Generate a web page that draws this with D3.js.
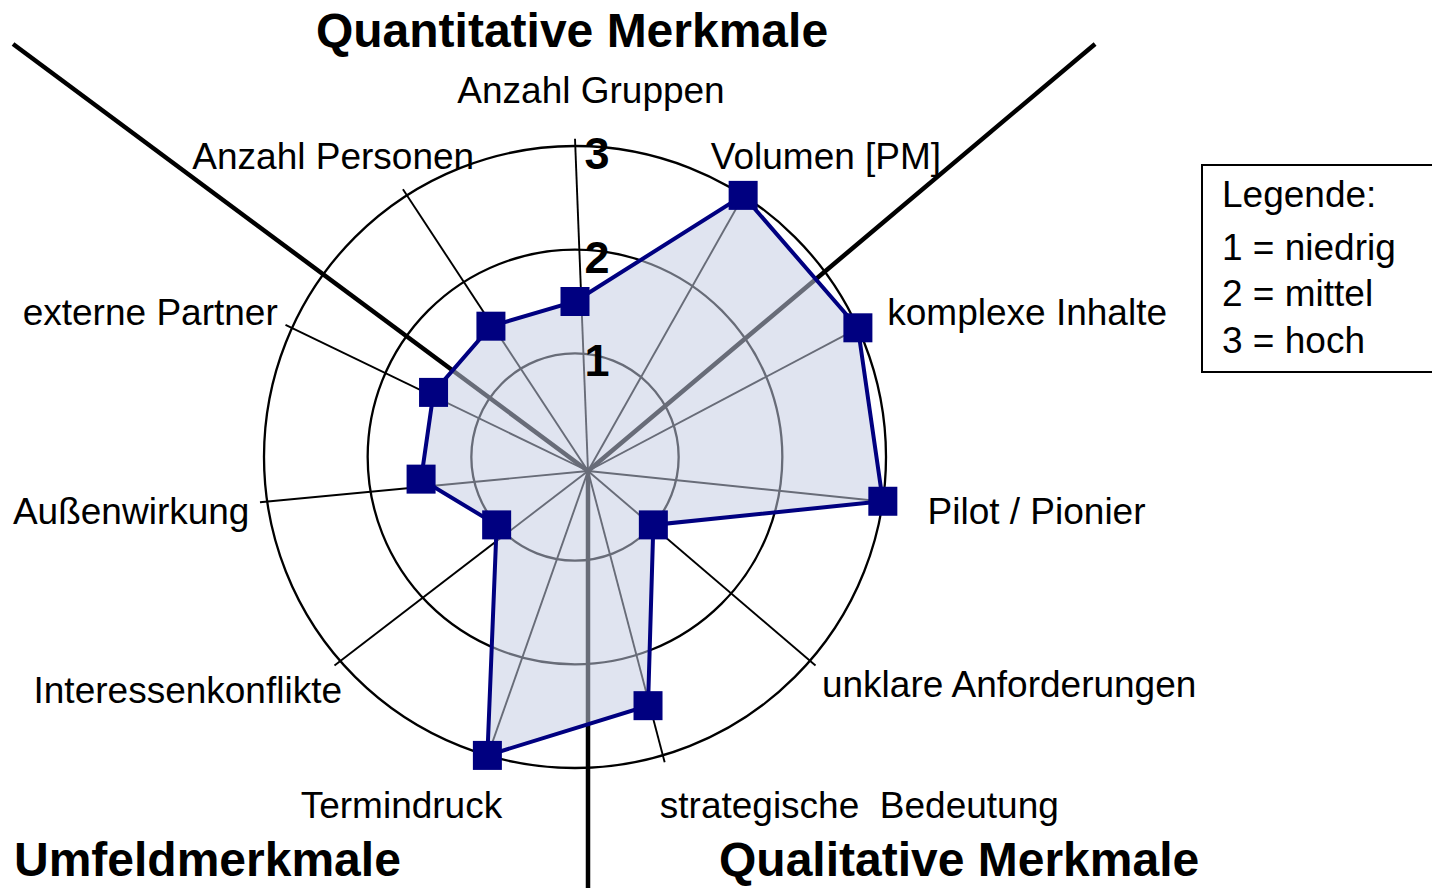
<!DOCTYPE html>
<html>
<head>
<meta charset="utf-8">
<script src="https://cdn.jsdelivr.net/npm/d3@7"></script>
<style>
  html, body { margin: 0; padding: 0; background: #fff; }
  text { font-family: "Liberation Sans", Arial, sans-serif; fill: #000; }
</style>
</head>
<body>
<div id="chart"></div>
<script>
// Categories, clockwise from the top
const categories = [
    'Anzahl Gruppen', 'Volumen [PM]', 'komplexe Inhalte', 'Pilot / Pionier',
    'unklare Anforderungen', 'strategische  Bedeutung', 'Termindruck',
    'Interessenkonflikte', 'Außenwirkung', 'externe Partner', 'Anzahl Personen'
];
const values = [1.5, 3, 3, 3, 1, 2.5, 3, 1, 1.5, 1.5, 1.5];
const ringTicks = [1, 2, 3];
const legendLines = ['Legende:', '1 = niedrig', '2 = mittel', '3 = hoch'];
const groupNames = ['Quantitative Merkmale', 'Qualitative Merkmale', 'Umfeldmerkmale'];
// sector dividers, degrees clockwise from north
const dividerAngles = [49.9, 180, 306.6];

// Size and layout
const width = 1432;
const height = 888;
const center = { x: 575, y: 457 };
const spokeOrigin = { x: 588, y: 471 };   // spokes meet slightly off the ring centre
const navy = '#000080';

// label placement: anchor + nudge from the axis point at r = 340
const labelLayout = [
    { anchor: 'middle', dx: 16, dy: -14 },
    { anchor: 'start', dx: -48, dy: -2 },
    { anchor: 'start', dx: 3, dy: 9 },
    { anchor: 'start', dx: 16, dy: 19 },
    { anchor: 'start', dx: -10, dy: 17 },
    { anchor: 'start', dx: -11, dy: 35 },
    { anchor: 'end', dx: 23, dy: 35 },
    { anchor: 'end', dx: 24, dy: 23 },
    { anchor: 'end', dx: 11, dy: 19 },
    { anchor: 'end', dx: 12, dy: 9 },
    { anchor: 'end', dx: 83, dy: -2 }
];

const svg = d3.select('#chart')
    .append('svg')
    .attr('width', width)
    .attr('height', height);

const rScale = d3.scaleLinear().domain([0, 3]).range([0, 311]);
const angle = d3.scalePoint()
    .domain(d3.range(categories.length + 1))
    .range([0, 2 * Math.PI]);

const polar = (i, r, c = center) => [
    c.x + r * Math.sin(angle(i)),
    c.y - r * Math.cos(angle(i))
];

// Rings
svg.append('g')
    .selectAll('circle')
    .data(ringTicks)
    .enter()
    .append('circle')
    .attr('cx', center.x)
    .attr('cy', center.y)
    .attr('r', (d) => rScale(d))
    .attr('fill', 'none')
    .attr('stroke', '#000')
    .attr('stroke-width', 2.3);

// Spokes
svg.append('g')
    .selectAll('line')
    .data(categories)
    .enter()
    .append('line')
    .attr('x1', spokeOrigin.x)
    .attr('y1', spokeOrigin.y)
    .attr('x2', (d, i) => polar(i, rScale(3.07))[0])
    .attr('y2', (d, i) => polar(i, rScale(3.07))[1])
    .attr('stroke', '#000')
    .attr('stroke-width', 1.9);

// Sector dividers
const topY = 44;
svg.append('g')
    .selectAll('line')
    .data(dividerAngles)
    .enter()
    .append('line')
    .attr('x1', spokeOrigin.x)
    .attr('y1', spokeOrigin.y)
    .each(function (d) {
        const a = d * Math.PI / 180;
        const len = Math.cos(a) > 0
            ? (spokeOrigin.y - topY) / Math.cos(a)
            : (height - spokeOrigin.y) / -Math.cos(a);
        d3.select(this)
            .attr('x2', spokeOrigin.x + len * Math.sin(a))
            .attr('y2', spokeOrigin.y - len * Math.cos(a));
    })
    .attr('stroke', '#000')
    .attr('stroke-width', 4.5);

// Data area
const pts = values.map((v, i) => polar(i, rScale(v)));
const line = d3.line().curve(d3.curveLinearClosed);

svg.append('path')
    .attr('d', line(pts))
    .attr('fill', 'rgb(197,204,227)')
    .attr('fill-opacity', 0.53)
    .attr('stroke', 'none');

svg.append('path')
    .attr('d', line(pts))
    .attr('fill', 'none')
    .attr('stroke', navy)
    .attr('stroke-width', 4)
    .attr('stroke-linejoin', 'miter');

svg.append('g')
    .selectAll('rect')
    .data(pts)
    .enter()
    .append('rect')
    .attr('x', (d) => d[0] - 14.5)
    .attr('y', (d) => d[1] - 14.5)
    .attr('width', 29)
    .attr('height', 29)
    .attr('fill', navy);

// Ring labels
svg.append('g')
    .selectAll('text')
    .data(ringTicks)
    .enter()
    .append('text')
    .attr('x', center.x + 22)
    .attr('y', (d) => center.y - rScale(d) + 23)
    .attr('text-anchor', 'middle')
    .attr('font-size', 45)
    .attr('font-weight', 'bold')
    .text((d) => d);

// Category labels
svg.append('g')
    .selectAll('text')
    .data(categories)
    .enter()
    .append('text')
    .attr('x', (d, i) => polar(i, 340)[0] + labelLayout[i].dx)
    .attr('y', (d, i) => polar(i, 340)[1] + labelLayout[i].dy)
    .attr('text-anchor', (d, i) => labelLayout[i].anchor)
    .attr('font-size', 37)
    .style('white-space', 'pre')
    .text((d) => d);

// Group titles
const titleLayout = [
    { x: 572, y: 47, anchor: 'middle' },
    { x: 719, y: 876, anchor: 'start' },
    { x: 14, y: 876, anchor: 'start' }
];
svg.append('g')
    .selectAll('text')
    .data(groupNames)
    .enter()
    .append('text')
    .attr('x', (d, i) => titleLayout[i].x)
    .attr('y', (d, i) => titleLayout[i].y)
    .attr('text-anchor', (d, i) => titleLayout[i].anchor)
    .attr('font-size', 48)
    .attr('font-weight', 'bold')
    .text((d) => d);

// Legend
const legendRowY = [42, 95, 141, 188];
const legend = svg.append('g').attr('transform', 'translate(1202,165)');
legend.append('rect')
    .attr('width', 240)
    .attr('height', 207)
    .attr('fill', '#fff')
    .attr('stroke', '#000')
    .attr('stroke-width', 2);
legend.selectAll('text')
    .data(legendLines)
    .enter()
    .append('text')
    .attr('x', 20)
    .attr('y', (d, i) => legendRowY[i])
    .attr('font-size', 37)
    .text((d) => d);
</script>
</body>
</html>
